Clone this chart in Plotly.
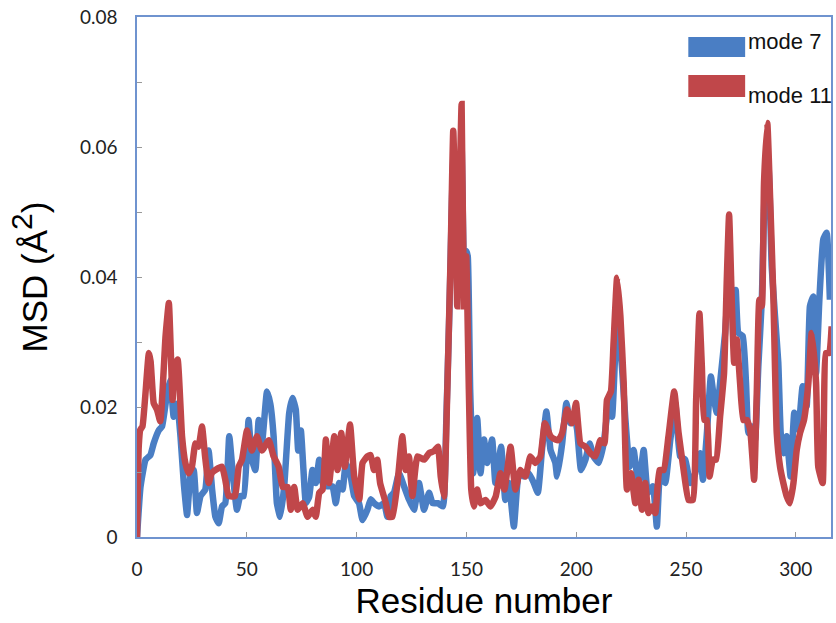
import plotly.graph_objects as go

# Residue positions and mean-square displacement (Å²) for each normal mode
mode7_res = [
    0, 1.6, 3.9, 6.1, 7.6, 9.9, 11.4, 13.7, 15.2, 16.7, 18.3, 19.8, 21.3, 22.8, 24.3, 25.8,
    27.3, 28.9, 31.1, 32.6, 34.2, 35.7, 37.2, 38.7, 40.2, 42.0, 43.6, 45.5, 47.0, 48.6,
    50.8, 52.3, 53.9, 55.4, 56.9, 59.2, 60.7, 62.2, 63.7, 65.2,
    67.0, 69.3, 70.8, 72.3, 73.4, 74.6, 75.8, 76.9, 78.4, 79.9, 81.4, 83.0, 84.5, 86.7,
    89.0, 90.5, 92.0, 93.6, 95.1, 97.3, 98.9, 101.1, 102.7, 104.9, 106.4, 108.0, 110.2,
    112.5, 114.0, 115.5, 117.0, 119.3, 121.6, 123.8, 126.1,
    128.4, 130.7, 133.0, 134.6, 137.0, 139.3, 140.8, 142.3, 144.0, 145.8, 147.8, 148.9,
    149.9, 150.6, 151.7, 153.1, 154.9, 156.4, 158.0, 159.4, 161.7, 163.2, 165.8, 167.7,
    169.3, 171.6, 173.9, 176.2, 178.4, 180.7, 182.5, 184.4, 186.4, 188.3, 190.5,
    191.3, 193.6, 195.5, 197.3, 198.9, 200.4, 202.2, 204.2, 206.1, 207.9, 210.2, 212.5,
    214.8, 216.3, 218.6, 220.8, 222.3, 224.3, 226.1, 228.4, 230.7, 232.6, 234.9, 236.7,
    238.2, 240.5, 242.8, 245.1, 247.3, 249.6, 251.9, 254.2,
    254.9, 256.4, 257.7, 259.5, 261.3, 262.8, 264.0, 265.8, 267.8, 269.3, 271.2, 272.6,
    273.8, 275.8, 277.3, 278.4, 279.9, 281.4, 282.9, 284.5, 286.0, 287.5, 289.0, 290.5,
    292.0, 293.1, 294.3, 295.8, 297.6, 299.3, 301.1, 303.1, 304.9, 306.4, 307.9, 309.2,
    310.7, 312.5, 314.0, 315.5,
]
mode7_msd = [
    0, 0.0077, 0.0119, 0.0126, 0.0144, 0.0164, 0.0170, 0.0221, 0.0242, 0.0185, 0.0205, 0.0155,
    0.0083, 0.0034, 0.0093, 0.0103, 0.0037, 0.0063, 0.0073, 0.0133, 0.0073, 0.0031, 0.0021,
    0.0047, 0.0052, 0.0155, 0.0098, 0.0042, 0.0063, 0.0063, 0.0180, 0.0119, 0.0103, 0.0180,
    0.0144, 0.0224, 0.0205, 0.0155, 0.0052, 0.0031,
    0.0077, 0.0191, 0.0214, 0.0196, 0.0133, 0.0164, 0.0103, 0.0052, 0.0062, 0.0103, 0.0083,
    0.0119, 0.0083, 0.0078, 0.0078, 0.0052, 0.0083, 0.0073, 0.0114, 0.0093, 0.0063, 0.0052,
    0.0026, 0.0042, 0.0058, 0.0052, 0.0047, 0.0052, 0.0031, 0.0063, 0.0068, 0.0098, 0.0078,
    0.0058, 0.0042,
    0.0083, 0.0042, 0.0068, 0.0052, 0.0052, 0.0047, 0.0175, 0.0355, 0.0580, 0.0400, 0.0600,
    0.0420, 0.0440, 0.0432, 0.0227, 0.0098, 0.0183, 0.0098, 0.0150, 0.0114, 0.0150, 0.0083,
    0.0139, 0.0057, 0.0083, 0.0016, 0.0098, 0.0093, 0.0098, 0.0083, 0.0068, 0.0134, 0.0193,
    0.0134, 0.0114,
    0.0093, 0.0144, 0.0206, 0.0175, 0.0190, 0.0165, 0.0103, 0.0119, 0.0144, 0.0124, 0.0114,
    0.0144, 0.0206, 0.0185, 0.0340, 0.0262, 0.0185, 0.0108, 0.0134, 0.0078, 0.0134, 0.0068,
    0.0078, 0.0016, 0.0098, 0.0083, 0.0149, 0.0206, 0.0124, 0.0119, 0.0083, 0.0098,
    0.0119, 0.0129, 0.0088, 0.0160, 0.0247, 0.0211, 0.0191, 0.0247, 0.0314, 0.0386, 0.0340,
    0.0380, 0.0314, 0.0309, 0.0237, 0.0160, 0.0170, 0.0149, 0.0262, 0.0365, 0.0545, 0.0570,
    0.0416, 0.0340, 0.0268, 0.0160, 0.0129, 0.0155, 0.0093, 0.0191, 0.0165, 0.0232, 0.0201,
    0.0355, 0.0370, 0.0252, 0.0365, 0.0458, 0.0468, 0.0365,
]

mode11_res = [
    0, 0.8, 1.5, 2.5, 5.4, 6.2, 7.6, 9.1, 10.6, 13.0, 14.5, 16.2, 17.0, 18.5, 20.5, 22.0,
    23.5, 25.0, 26.6, 28.0, 29.6, 31.0, 32.6, 34.0, 35.7, 38.7, 40.2, 41.7, 44.6, 46.3,
    47.8, 50.1, 52.3, 54.6, 56.9, 60.0, 62.2,
    64.5, 66.3, 68.6, 70.0, 71.6, 73.1, 75.4, 77.7, 80.0, 81.4, 83.0, 84.5, 86.0, 87.5,
    89.8, 91.3, 93.0, 94.6, 97.0, 98.9, 101.2, 102.7, 104.9, 106.4, 107.9, 109.4, 110.7,
    113.3, 114.8, 116.3, 118.6, 120.8, 122.3, 123.8, 125.4, 127.7,
    130.7, 133.0, 135.2, 137.0, 138.3, 139.8, 141.3, 142.8, 144.0, 145.1, 145.8, 146.9,
    147.8, 148.9, 149.9, 151.1, 152.2, 153.4, 154.9, 156.4, 158.7, 160.9, 163.3, 165.5,
    167.3, 170.1, 172.3, 174.6, 176.9, 179.1, 181.4, 183.7, 185.7, 188.3,
    190.5, 192.0, 193.6, 195.8, 198.1, 199.9, 201.9, 204.2, 206.4, 208.7, 211.0, 212.8,
    214.0, 215.8, 217.0, 218.6, 220.1, 221.6, 223.1, 224.9, 226.9, 228.4, 229.9, 231.4,
    232.9, 234.5, 236.0, 237.9, 239.8, 242.0, 244.6, 246.6, 248.9, 251.1, 253.1,
    254.6, 256.1, 257.2, 258.3, 259.5, 260.7, 262.2, 263.7, 265.5, 267.3, 268.6, 269.6,
    270.8, 271.9, 273.1, 274.6, 276.1, 277.7, 279.2, 281.0, 282.2, 283.4, 284.5, 285.5,
    287.0, 288.3, 289.8, 291.3, 292.8, 294.3, 295.8, 297.3, 298.9, 300.4, 301.9, 303.7,
    305.7, 307.2, 309.2, 310.2, 312.2, 313.7, 315.2, 316.3,
]
mode11_msd = [
    0, 0.0140, 0.0165, 0.0170, 0.0283, 0.0270, 0.0206, 0.0196, 0.0178, 0.0309, 0.0360, 0.0211,
    0.0257, 0.0273, 0.0155, 0.0114, 0.0098, 0.0108, 0.0144, 0.0139, 0.0170, 0.0124, 0.0083,
    0.0098, 0.0103, 0.0108, 0.0088, 0.0063, 0.0063, 0.0108, 0.0119, 0.0164, 0.0133, 0.0155,
    0.0133, 0.0149, 0.0124,
    0.0108, 0.0077, 0.0077, 0.0042, 0.0077, 0.0042, 0.0052, 0.0031, 0.0042, 0.0031, 0.0068,
    0.0073, 0.0150, 0.0083, 0.0155, 0.0103, 0.0160, 0.0108, 0.0173, 0.0093, 0.0058, 0.0114,
    0.0124, 0.0126, 0.0103, 0.0119, 0.0083, 0.0052, 0.0031, 0.0031, 0.0083, 0.0155, 0.0103,
    0.0124, 0.0063, 0.0124,
    0.0119, 0.0129, 0.0132, 0.0139, 0.0093, 0.0062, 0.0227, 0.0432, 0.0625, 0.0483, 0.0355,
    0.0534, 0.0666, 0.0355, 0.0432, 0.0227, 0.0073, 0.0047, 0.0073, 0.0052, 0.0057, 0.0047,
    0.0062, 0.0098, 0.0073, 0.0139, 0.0073, 0.0103, 0.0093, 0.0124, 0.0114, 0.0124, 0.0175,
    0.0155,
    0.0150, 0.0149, 0.0160, 0.0196, 0.0175, 0.0206, 0.0144, 0.0139, 0.0129, 0.0124, 0.0149,
    0.0144, 0.0211, 0.0224, 0.0299, 0.0399, 0.0340, 0.0237, 0.0073, 0.0098, 0.0052, 0.0088,
    0.0042, 0.0083, 0.0037, 0.0047, 0.0037, 0.0103, 0.0103, 0.0155, 0.0224, 0.0160, 0.0103,
    0.0057, 0.0057,
    0.0211, 0.0344, 0.0262, 0.0180, 0.0180, 0.0093, 0.0119, 0.0119, 0.0185, 0.0252, 0.0401,
    0.0496, 0.0365, 0.0268, 0.0304, 0.0237, 0.0180, 0.0180, 0.0165, 0.0088, 0.0222, 0.0365,
    0.0355, 0.0545, 0.0637, 0.0519, 0.0365, 0.0160, 0.0108, 0.0083, 0.0063, 0.0052, 0.0083,
    0.0134, 0.0160, 0.0180, 0.0237, 0.0314, 0.0237, 0.0108, 0.0083, 0.0283, 0.0283, 0.0324,
]

x_ticks = [0, 50, 100, 150, 200, 250, 300]
y_ticks = [0, 0.02, 0.04, 0.06, 0.08]
y_tick_text = ["0", "0.02", "0.04", "0.06", "0.08"]

series_names = ["mode 7", "mode 11"]
BLUE = "#4a7ec4"
RED = "#c0474a"
FRAME = "#6f93cf"

fig = go.Figure()
fig.add_trace(go.Scatter(
    x=mode7_res, y=mode7_msd, mode="lines", name=series_names[0],
    line=dict(color=BLUE, width=6.5, shape="spline", smoothing=0.4),
))
fig.add_trace(go.Scatter(
    x=mode11_res, y=mode11_msd, mode="lines", name=series_names[1],
    line=dict(color=RED, width=6.5, shape="spline", smoothing=0.4),
))

# Legend drawn as wide colour bars with labels beside them
legend_rows = [
    (BLUE, 0.9231, 0.9615, 0.9538),
    (RED, 0.8462, 0.8885, 0.8500),
]
for (color, y0, y1, ytxt), name in zip(legend_rows, series_names):
    fig.add_shape(type="rect", xref="paper", yref="paper",
                  x0=0.7944, x1=0.8763, y0=y0, y1=y1,
                  line=dict(width=0), fillcolor=color)
    fig.add_annotation(xref="paper", yref="paper", x=0.8778, y=ytxt,
                       text=name, showarrow=False, xanchor="left", yanchor="middle",
                       font=dict(family="Liberation Sans, Arial", size=22, color="#111"))

fig.update_layout(
    width=836, height=623,
    margin=dict(l=137, r=3, t=17, b=86),
    paper_bgcolor="white", plot_bgcolor="white",
    showlegend=False,
)
fig.update_xaxes(
    range=[0, 316], tickvals=x_ticks, ticks="inside", ticklen=5, tickcolor="#999",
    showline=True, mirror=True, linecolor=FRAME, linewidth=1.5,
    showgrid=False, zeroline=False,
    tickfont=dict(family="Lato, Carlito, sans-serif", size=19, color="#222"),
    ticklabelstandoff=14,
    title=dict(text="Residue number", standoff=10,
               font=dict(family="Liberation Sans, Arial", size=35, color="#000")),
)
fig.update_yaxes(
    range=[0, 0.08], tickvals=y_ticks, ticktext=y_tick_text, ticks="inside", ticklen=5,
    tickcolor="#999",
    minor=dict(dtick=0.01, ticks="inside", ticklen=5, tickcolor="#999", showgrid=False),
    showline=True, mirror=True, linecolor=FRAME, linewidth=1.5,
    showgrid=False, zeroline=False,
    tickfont=dict(family="Lato, Carlito, sans-serif", size=19, color="#222"),
    ticklabelstandoff=14,
    title=dict(text="MSD (Å<sup><span style='font-size:30px'>2</span></sup>)", standoff=22,
               font=dict(family="Liberation Sans, Arial", size=35, color="#000")),
)

fig.write_html("out.html")
